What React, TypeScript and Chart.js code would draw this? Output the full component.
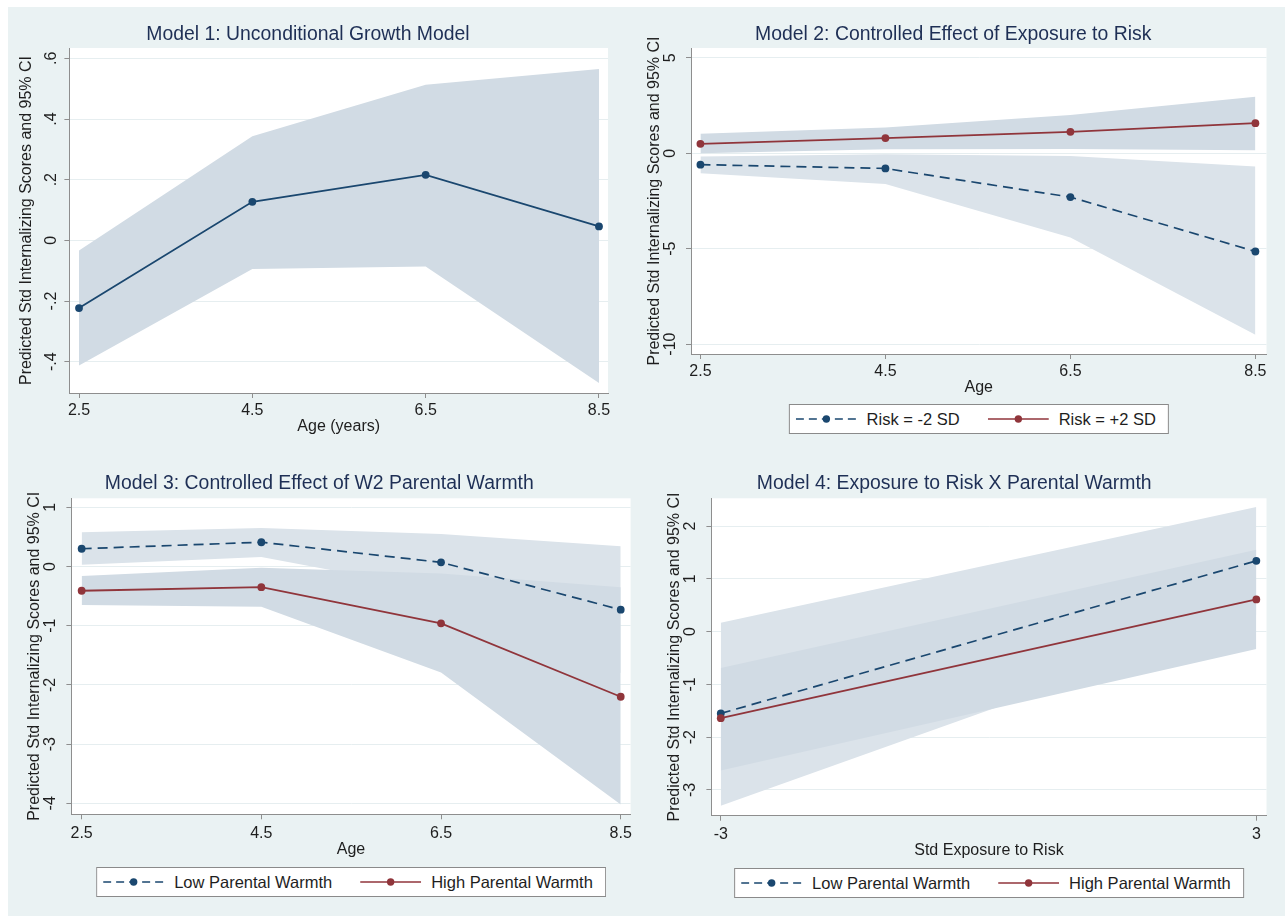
import React, { useEffect, useRef } from 'react';
import { Chart, registerables } from 'chart.js';

Chart.register(...registerables);

// ---------------- Data ----------------
const AGES = [2.5, 4.5, 6.5, 8.5];
const AGE_TICKS = [2.5, 4.5, 6.5, 8.5];
const AGE_TICK_LABELS = ['2.5', '4.5', '6.5', '8.5'];
const RISK_X = [-3, 3];
const RISK_TICKS = [-3, 3];
const RISK_TICK_LABELS = ['-3', '3'];

// Model 1
const M1_EST = [-0.223, 0.127, 0.216, 0.046];
const M1_UPPER = [-0.033, 0.343, 0.513, 0.565];
const M1_LOWER = [-0.412, -0.094, -0.086, -0.47];
const M1_Y_TICKS = [-0.4, -0.2, 0, 0.2, 0.4, 0.6];
const M1_Y_LABELS = ['-.4', '-.2', '0', '.2', '.4', '.6'];

// Model 2
const M2_LOW_EST = [-0.6, -0.8, -2.3, -5.15];
const M2_LOW_UPPER = [-0.18, -0.06, -0.15, -0.7];
const M2_LOW_LOWER = [-1.05, -1.62, -4.42, -9.51];
const M2_HIGH_EST = [0.49, 0.79, 1.12, 1.57];
const M2_HIGH_UPPER = [1.02, 1.35, 2.0, 2.96];
const M2_HIGH_LOWER = [0.0, 0.2, 0.22, 0.16];
const M2_Y_TICKS = [-10, -5, 0, 5];
const M2_Y_LABELS = ['-10', '-5', '0', '5'];

// Model 3
const M3_LOW_EST = [0.3, 0.41, 0.07, -0.73];
const M3_LOW_UPPER = [0.58, 0.65, 0.55, 0.34];
const M3_LOW_LOWER = [0.03, 0.16, -0.41, -1.8];
const M3_HIGH_EST = [-0.41, -0.35, -0.96, -2.2];
const M3_HIGH_UPPER = [-0.16, -0.02, -0.12, -0.35];
const M3_HIGH_LOWER = [-0.65, -0.68, -1.79, -4.02];
const M3_Y_TICKS = [-4, -3, -2, -1, 0, 1];
const M3_Y_LABELS = ['-4', '-3', '-2', '-1', '0', '1'];

// Model 4
const M4_LOW_EST = [-1.55, 1.34];
const M4_LOW_UPPER = [0.17, 2.36];
const M4_LOW_LOWER = [-3.3, 0.32];
const M4_HIGH_EST = [-1.64, 0.61];
const M4_HIGH_UPPER = [-0.69, 1.55];
const M4_HIGH_LOWER = [-2.63, -0.33];
const M4_Y_TICKS = [-3, -2, -1, 0, 1, 2];
const M4_Y_LABELS = ['-3', '-2', '-1', '0', '1', '2'];

const TITLES = [
  'Model 1: Unconditional Growth Model',
  'Model 2: Controlled Effect of Exposure to Risk',
  'Model 3: Controlled Effect of W2 Parental Warmth',
  'Model 4: Exposure to Risk X Parental Warmth',
];
const X_TITLES = ['Age (years)', 'Age', 'Age', 'Std Exposure to Risk'];
const Y_TITLE = 'Predicted Std Internalizing Scores and 95% CI';
const LEGEND_M2 = ['Risk = -2 SD', 'Risk = +2 SD'];
const LEGEND_WARMTH = ['Low Parental Warmth', 'High Parental Warmth'];

// ---------------- Styles ----------------
const FONT_FAMILY = '"Liberation Sans", Arial, Helvetica, sans-serif';
const NAVY = '#1a476f';
const MAROON = '#90353b';
const BAND_LIGHT = '#dbe3ea';
const BAND_DARK = '#d1dbe4';
const BG = '#eaf2f3';
const GRID = '#e6eef0';
const AXIS = '#8e8e8e';
const TEXT = '#1e1e1e';
const TITLE_COLOR = '#1e2f55';
const TICK_SIZE = 16;
const AXIS_TITLE_SIZE = 16;
const TITLE_SIZE = 19.4;
const LEGEND_SIZE = 16.5;
const TICK_LEN = 5;

type Series = {
  est: number[];
  upper: number[];
  lower: number[];
  color: string;
  band: string;
  dashed: boolean;
};

type Layout = {
  canvas: [number, number, number, number];
  plot: [number, number, number, number];
  titleY: number;
  yTitleX: number;
  yTickX: number;
  xTickY: number;
  xTitleY: number;
  legendTop?: number;
};

type PanelSpec = {
  title: string;
  xTitle: string;
  x: number[];
  xTicks: number[];
  xLabels: string[];
  xMin: number;
  xMax: number;
  yTicks: number[];
  yLabels: string[];
  yMin: number;
  yMax: number;
  series: Series[];
  legend?: string[];
  layout: Layout;
};

const PANELS: PanelSpec[] = [
  {
    title: TITLES[0],
    xTitle: X_TITLES[0],
    x: AGES,
    xTicks: AGE_TICKS,
    xLabels: AGE_TICK_LABELS,
    xMin: 2.389,
    xMax: 8.604,
    yTicks: M1_Y_TICKS,
    yLabels: M1_Y_LABELS,
    yMin: -0.503,
    yMax: 0.634,
    series: [
      { est: M1_EST, upper: M1_UPPER, lower: M1_LOWER, color: NAVY, band: BAND_DARK, dashed: false },
    ],
    layout: {
      canvas: [8, 7, 630, 443],
      plot: [69.4, 48, 608, 393],
      titleY: 35,
      yTitleX: 27,
      yTickX: 52,
      xTickY: 411,
      xTitleY: 426.7,
    },
  },
  {
    title: TITLES[1],
    xTitle: X_TITLES[1],
    x: AGES,
    xTicks: AGE_TICKS,
    xLabels: AGE_TICK_LABELS,
    xMin: 2.398,
    xMax: 8.62,
    yTicks: M2_Y_TICKS,
    yLabels: M2_Y_LABELS,
    yMin: -10.52,
    yMax: 5.51,
    series: [
      { est: M2_LOW_EST, upper: M2_LOW_UPPER, lower: M2_LOW_LOWER, color: NAVY, band: BAND_LIGHT, dashed: true },
      { est: M2_HIGH_EST, upper: M2_HIGH_UPPER, lower: M2_HIGH_LOWER, color: MAROON, band: BAND_DARK, dashed: false },
    ],
    legend: LEGEND_M2,
    layout: {
      canvas: [640, 7, 645, 443],
      plot: [691, 48, 1266.5, 354],
      titleY: 35,
      yTitleX: 654.3,
      yTickX: 670.6,
      xTickY: 371.5,
      xTitleY: 387.5,
      legendTop: 404,
    },
  },
  {
    title: TITLES[2],
    xTitle: X_TITLES[2],
    x: AGES,
    xTicks: AGE_TICKS,
    xLabels: AGE_TICK_LABELS,
    xMin: 2.386,
    xMax: 8.61,
    yTicks: M3_Y_TICKS,
    yLabels: M3_Y_LABELS,
    yMin: -4.186,
    yMax: 1.152,
    series: [
      { est: M3_LOW_EST, upper: M3_LOW_UPPER, lower: M3_LOW_LOWER, color: NAVY, band: BAND_LIGHT, dashed: true },
      { est: M3_HIGH_EST, upper: M3_HIGH_UPPER, lower: M3_HIGH_LOWER, color: MAROON, band: BAND_DARK, dashed: false },
    ],
    legend: LEGEND_WARMTH,
    layout: {
      canvas: [8, 455, 634, 461],
      plot: [71.4, 498.3, 630.6, 814.3],
      titleY: 483.3,
      yTitleX: 34.7,
      yTickX: 51,
      xTickY: 834,
      xTitleY: 850,
      legendTop: 867,
    },
  },
  {
    title: TITLES[3],
    xTitle: X_TITLES[3],
    x: RISK_X,
    xTicks: RISK_TICKS,
    xLabels: RISK_TICK_LABELS,
    xMin: -3.105,
    xMax: 3.114,
    yTicks: M4_Y_TICKS,
    yLabels: M4_Y_LABELS,
    yMin: -3.487,
    yMax: 2.525,
    series: [
      { est: M4_LOW_EST, upper: M4_LOW_UPPER, lower: M4_LOW_LOWER, color: NAVY, band: BAND_LIGHT, dashed: true },
      { est: M4_HIGH_EST, upper: M4_HIGH_UPPER, lower: M4_HIGH_LOWER, color: MAROON, band: BAND_DARK, dashed: false },
    ],
    legend: LEGEND_WARMTH,
    layout: {
      canvas: [642, 455, 643, 461],
      plot: [711.4, 498.3, 1266.5, 815.7],
      titleY: 483.3,
      yTitleX: 674.7,
      yTickX: 691,
      xTickY: 834.3,
      xTitleY: 851,
      legendTop: 868,
    },
  },
];

Chart.defaults.font.family = FONT_FAMILY;

function measure(text: string, size: number): number {
  const c = document.createElement('canvas').getContext('2d');
  if (!c) return 0;
  c.font = `${size}px ${FONT_FAMILY}`;
  return c.measureText(text).width;
}

const plotBackground = {
  id: 'plotBackground',
  beforeDraw(chart: any) {
    const { ctx, chartArea: a } = chart;
    if (!a) return;
    ctx.save();
    ctx.fillStyle = '#ffffff';
    ctx.fillRect(a.left, a.top, a.right - a.left, a.bottom - a.top);
    ctx.restore();
  },
};

function PanelChart({ spec }: { spec: PanelSpec }) {
  const ref = useRef<HTMLCanvasElement | null>(null);
  const L = spec.layout;
  const [cl, ct, cw, chh] = L.canvas;

  useEffect(() => {
    const canvas = ref.current;
    if (!canvas) return;
    const [pl, pt, pr, pb] = L.plot;
    const tickLH = TICK_SIZE * 1.2;
    const axLH = AXIS_TITLE_SIZE * 1.2;
    const tLH = TITLE_SIZE * 1.2;
    const widest = Math.max(...spec.yLabels.map((s) => measure(s, TICK_SIZE)));
    const yPad = pl - TICK_LEN - L.yTickX - widest / 2;
    const yWidth = pl - cl;
    const yTitlePad = L.yTitleX - cl - axLH / 2;
    const xHeight = L.xTitleY - pb + axLH / 2;
    const xPad = L.xTickY - pb - TICK_LEN - tickLH / 2;
    const titleTop = L.titleY - ct - tLH / 2;
    const titleBottom = Math.max(0, pt - ct - titleTop - tLH);
    const padRight = cl + cw - pr;
    const padBottom = Math.max(0, ct + chh - pb - xHeight);

    const rev = [...spec.series].reverse();
    const lineSets = rev.map((s) => ({
      type: 'line' as const,
      data: spec.x.map((x, i) => ({ x, y: s.est[i] })),
      borderColor: s.color,
      backgroundColor: s.color,
      borderWidth: s.dashed ? 1.7 : 1.8,
      borderDash: s.dashed ? [10, 6] : [],
      pointRadius: 3.9,
      pointHoverRadius: 3.9,
      pointBackgroundColor: s.color,
      pointBorderWidth: 0,
      fill: false,
      tension: 0,
    }));
    const bandSets = rev.flatMap((s) => [
      {
        type: 'line' as const,
        data: spec.x.map((x, i) => ({ x, y: s.upper[i] })),
        borderColor: 'rgba(0,0,0,0)',
        borderWidth: 1,
        pointRadius: 0,
        pointHoverRadius: 0,
        backgroundColor: s.band,
        fill: '+1',
        tension: 0,
      },
      {
        type: 'line' as const,
        data: spec.x.map((x, i) => ({ x, y: s.lower[i] })),
        borderColor: 'rgba(0,0,0,0)',
        borderWidth: 1,
        pointRadius: 0,
        pointHoverRadius: 0,
        backgroundColor: s.band,
        fill: false,
        tension: 0,
      },
    ]);

    const chart = new Chart(canvas, {
      type: 'line',
      data: { datasets: [...lineSets, ...bandSets] as any },
      plugins: [plotBackground],
      options: {
        animation: false,
        responsive: false,
        events: [],
        layout: { padding: { left: 0, top: 0, right: padRight, bottom: padBottom } },
        plugins: {
          legend: { display: false },
          tooltip: { enabled: false },
          title: {
            display: true,
            text: spec.title,
            color: TITLE_COLOR,
            font: { size: TITLE_SIZE, weight: 'normal' },
            padding: { top: titleTop, bottom: titleBottom },
          },
        },
        scales: {
          x: {
            type: 'linear',
            min: spec.xMin,
            max: spec.xMax,
            bounds: 'data',
            afterBuildTicks: (scale: any) => {
              scale.ticks = spec.xTicks.map((v) => ({ value: v }));
            },
            afterFit: (scale: any) => {
              scale.height = xHeight;
            },
            ticks: {
              autoSkip: false,
              maxRotation: 0,
              minRotation: 0,
              padding: xPad,
              color: TEXT,
              font: { size: TICK_SIZE },
              callback: (v: any) => {
                const i = spec.xTicks.indexOf(Number(v));
                return i >= 0 ? spec.xLabels[i] : '';
              },
            },
            grid: {
              drawOnChartArea: false,
              drawTicks: true,
              tickLength: TICK_LEN,
              tickColor: AXIS,
              tickWidth: 1,
            },
            border: { display: true, color: AXIS, width: 1 },
            title: {
              display: true,
              text: spec.xTitle,
              color: TEXT,
              font: { size: AXIS_TITLE_SIZE },
              padding: { top: 0, bottom: 0 },
            },
          },
          y: {
            type: 'linear',
            min: spec.yMin,
            max: spec.yMax,
            bounds: 'data',
            afterBuildTicks: (scale: any) => {
              scale.ticks = spec.yTicks.map((v) => ({ value: v }));
            },
            afterFit: (scale: any) => {
              scale.width = yWidth;
            },
            ticks: {
              autoSkip: false,
              minRotation: 90,
              maxRotation: 90,
              crossAlign: 'center',
              padding: yPad,
              color: TEXT,
              font: { size: TICK_SIZE },
              callback: (v: any) => {
                const i = spec.yTicks.findIndex((t) => Math.abs(t - Number(v)) < 1e-9);
                return i >= 0 ? spec.yLabels[i] : '';
              },
            },
            grid: {
              color: GRID,
              lineWidth: 1,
              drawTicks: true,
              tickLength: TICK_LEN,
              tickColor: AXIS,
              tickWidth: 1,
            },
            border: { display: true, color: AXIS, width: 1 },
            title: {
              display: true,
              text: Y_TITLE,
              color: TEXT,
              font: { size: AXIS_TITLE_SIZE },
              padding: { top: yTitlePad, bottom: 0 },
            },
          },
        },
      } as any,
    });
    return () => chart.destroy();
  }, [spec]);

  return (
    <canvas
      ref={ref}
      width={cw}
      height={chh}
      style={{ position: 'absolute', left: cl, top: ct, width: cw, height: chh }}
    />
  );
}

function LegendSymbol({ color, dashed }: { color: string; dashed: boolean }) {
  return (
    <svg width={61} height={12} style={{ display: 'block', flex: '0 0 auto' }}>
      <line
        x1={0}
        y1={6}
        x2={61}
        y2={6}
        stroke={color}
        strokeWidth={1.6}
        strokeDasharray={dashed ? '8 5' : undefined}
      />
      <circle cx={30.5} cy={6} r={3.7} fill={color} />
    </svg>
  );
}

function PanelLegend({ spec }: { spec: PanelSpec }) {
  if (!spec.legend || spec.layout.legendTop === undefined) return null;
  const [pl, , pr] = spec.layout.plot;
  const cx = (pl + pr) / 2;
  return (
    <div
      style={{
        position: 'absolute',
        left: cx,
        top: spec.layout.legendTop,
        transform: 'translateX(-50%)',
        height: 30,
        boxSizing: 'border-box',
        border: '1px solid #8a8a8a',
        background: '#ffffff',
        display: 'flex',
        alignItems: 'center',
        padding: '0 12px 0 6px',
        whiteSpace: 'nowrap',
        fontFamily: FONT_FAMILY,
        fontSize: LEGEND_SIZE,
        color: TEXT,
      }}
    >
      {spec.series.map((s, i) => (
        <React.Fragment key={i}>
          <div style={{ marginLeft: i === 0 ? 0 : 28 }}>
            <LegendSymbol color={s.color} dashed={s.dashed} />
          </div>
          <span style={{ marginLeft: 10 }}>{spec.legend![i]}</span>
        </React.Fragment>
      ))}
    </div>
  );
}

export default function App() {
  return (
    <div
      style={{
        position: 'fixed',
        left: 0,
        top: 0,
        width: 1285,
        height: 916,
        background: '#ffffff',
        overflow: 'hidden',
      }}
    >
      <div style={{ position: 'absolute', left: 8, top: 7, right: 0, bottom: 0, background: BG }} />
      {PANELS.map((p, i) => (
        <React.Fragment key={i}>
          <PanelChart spec={p} />
          <PanelLegend spec={p} />
        </React.Fragment>
      ))}
    </div>
  );
}
